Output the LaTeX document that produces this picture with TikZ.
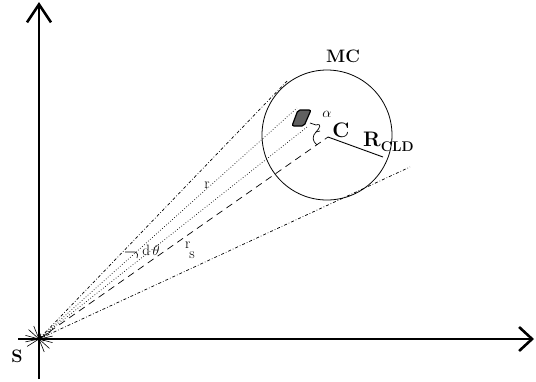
\documentclass[tikz,border=0pt]{standalone}
\usetikzlibrary{arrows.meta}
\begin{document}
\begin{tikzpicture}[x=1pt, y=-1pt, every node/.style={font=\small, inner sep=0pt},
  axis/.style={line width=2.6pt, -{Straight Barb[length=13pt, width=24pt, line width=2.6pt]}},
  ray/.style={line width=0.7pt, {To[length=4pt]}-},
  sym/.style={font=\bfseries\fontsize{18}{20}\selectfont}]
  \useasboundingbox (0,0) rectangle (536,381);

  % axes and source
  \coordinate (S) at (39,339);
  \coordinate (ybeg) at (39,379);
  \coordinate (yend) at (39,2);
  \coordinate (xbeg) at (18,339);
  \coordinate (xend) at (534,339);
  \draw[axis, -{Straight Barb[length=18pt, width=24pt, line width=2.6pt]}] (ybeg) -- (yend);
  \draw[axis] (xbeg) -- (xend);
  \foreach \a in {15,42,68,148,168}
    \draw[line width=0.6pt] (S) ++(\a:14) -- ++(\a+180:28);
  \node[sym] (s) at (17,356) {S};

  % cloud
  \node[draw, circle, minimum size=130pt, line width=0.8pt] (mc) at (327,135) {};
  \node[sym] (mclabel) at (343,56) {MC};
  \coordinate (c) at (328,137);
  \coordinate (rim) at (383,157);
  \draw[line width=1.2pt, fill=gray!75!black, rounded corners=2pt]
    (292,126) -- (298,110) -- (311,110) -- (304,126) -- cycle;
  \coordinate (blob) at (301,118);

  % rays from S
  \coordinate (t1) at (288,80);
  \coordinate (t2) at (410,167);
  \coordinate (d1) at (297,108);
  \coordinate (d2) at (307,127);
  \draw[ray, dash dot] (S) -- (t1);
  \draw[ray, dash dot] (S) -- (t2);
  \draw[ray, dotted] (S) -- (d1);
  \draw[ray, dotted] (S) -- (d2);
  \draw[ray, dashed, dash pattern=on 7pt off 5pt] (S) -- (c);
  \draw[line width=0.9pt] (c) -- (rim);

  % angle marks
  \draw[line width=0.7pt] (310,123) -- (316,125) .. controls (322,123) and (320,128) .. (316,132)
    .. controls (312,136) and (312,141) .. (317,145);
  \draw[line width=0.7pt] (316,132) -- (320,131);
  \draw[line width=0.7pt] (125,252) -- (135,252) .. controls (138,253) and (138,256) .. (137,258);

  % labels
  \node[font=\fontsize{15}{17}\selectfont] (alpha) at (327,114) {$\alpha$};
  \node[font=\bfseries\fontsize{21}{23}\selectfont] (clabel) at (341,130) {C};
  \node[font=\bfseries\fontsize{21}{23}\selectfont, anchor=west] (rcld) at (363,142) {R\raisebox{-5pt}{\fontsize{14}{16}\selectfont CLD}};
  \node[font=\fontsize{15}{17}\selectfont] (r) at (207,185) {r};
  \node[font=\fontsize{15}{17}\selectfont] (rs) at (190,250) {r\kern-1pt\raisebox{-10pt}{s}};
  \node[font=\fontsize{15}{17}\selectfont] (dth) at (151,250) {d\,$\theta$};
\end{tikzpicture}
\end{document}
